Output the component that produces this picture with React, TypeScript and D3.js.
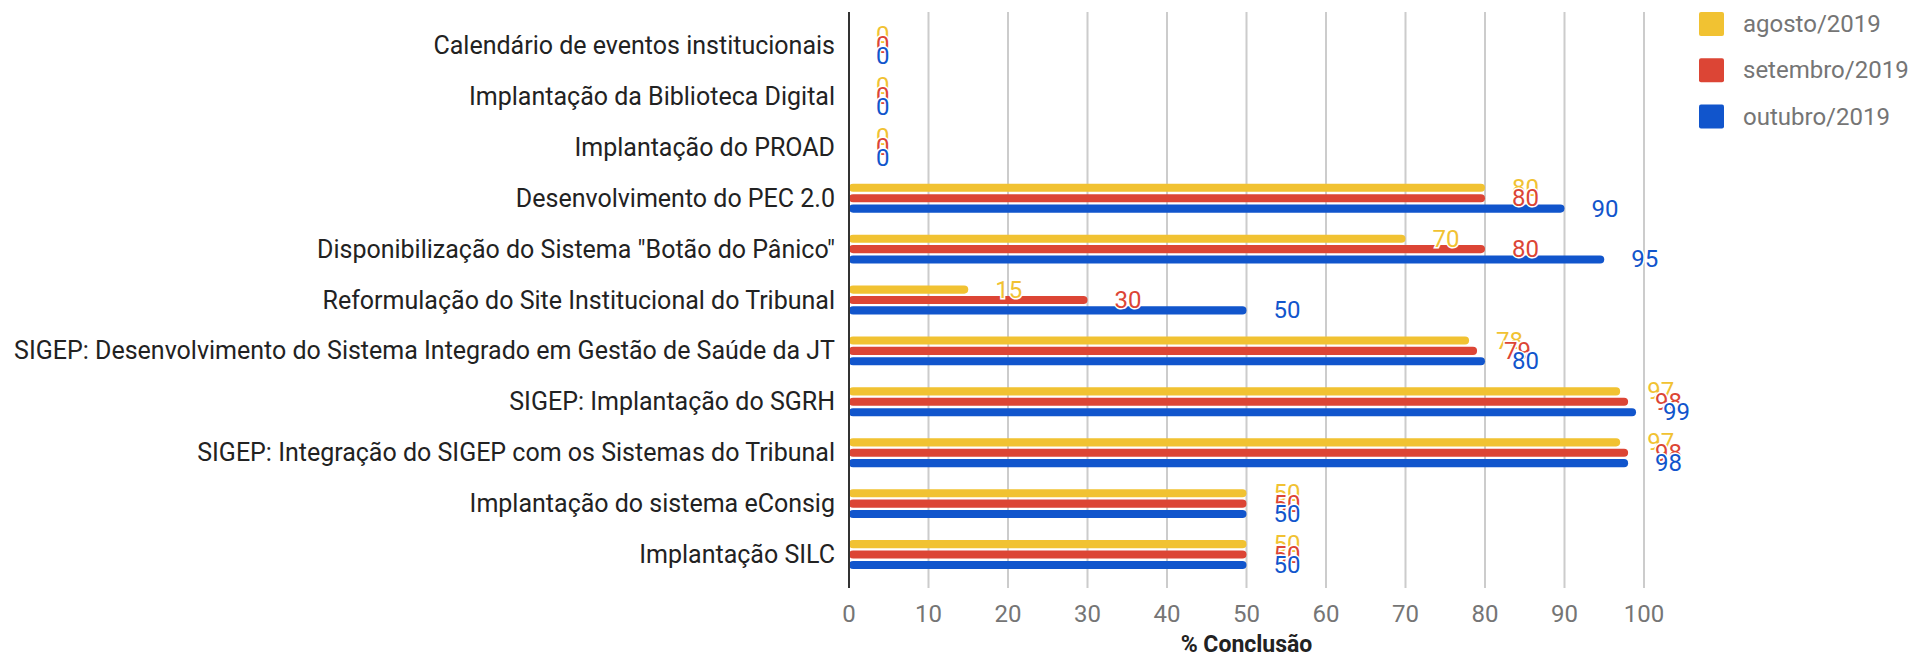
import React, {useRef, useEffect} from 'react';
import * as d3 from 'd3';

// chart data
const projects = [
    'Calendário de eventos institucionais',
    'Implantação da Biblioteca Digital',
    'Implantação do PROAD',
    'Desenvolvimento do PEC 2.0',
    'Disponibilização do Sistema "Botão do Pânico"',
    'Reformulação do Site Institucional do Tribunal',
    'SIGEP: Desenvolvimento do Sistema Integrado em Gestão de Saúde da JT',
    'SIGEP: Implantação do SGRH',
    'SIGEP: Integração do SIGEP com os Sistemas do Tribunal',
    'Implantação do sistema eConsig',
    'Implantação SILC'
];
const series = ['agosto/2019', 'setembro/2019', 'outubro/2019'];
const agosto = [0, 0, 0, 80, 70, 15, 78, 97, 97, 50, 50];
const setembro = [0, 0, 0, 80, 80, 30, 79, 98, 98, 50, 50];
const outubro = [0, 0, 0, 90, 95, 50, 80, 99, 98, 50, 50];
const xTicks = [0, 10, 20, 30, 40, 50, 60, 70, 80, 90, 100];
const xTitle = '% Conclusão';

const config = {
    w: 1916,
    h: 657,
    left: 849,
    right: 1644,
    top: 20,
    bottom: 580,
    font: 'Roboto, "Noto Sans", Arial, sans-serif',
    colors: ['#f1c232', '#dc4535', '#1155cc']
};

const App = () => {
    const svgRef = useRef(null);

    useEffect(() => {
        const svg = d3.select(svgRef.current)
            .attr('width', config.w)
            .attr('height', config.h)
            .style('font-family', config.font);
        svg.selectAll('*').remove();

        const values = [agosto, setembro, outubro];
        const rows = projects.map((p, i) => ({
            name: p,
            vals: series.map((s, j) => ({series: s, idx: j, v: values[j][i]}))
        }));

        const xScale = d3.scaleLinear().domain([0, 100]).range([config.left, config.right]);
        const yScale = d3.scaleBand().domain(projects).range([config.top, config.bottom]);
        const sub = d3.scaleBand().domain(series).range([-15.6, 15.6]);
        const color = d3.scaleOrdinal().domain(series).range(config.colors);
        const barH = sub.bandwidth() * 0.78;

        // gridlines
        svg.append('g')
            .selectAll('line')
            .data(xTicks.filter(t => t > 0))
            .join('line')
            .attr('x1', d => xScale(d)).attr('x2', d => xScale(d))
            .attr('y1', 12).attr('y2', 588)
            .attr('stroke', '#cccccc')
            .attr('stroke-width', 2);

        // tick labels
        svg.append('g')
            .selectAll('text')
            .data(xTicks)
            .join('text')
            .attr('x', d => xScale(d))
            .attr('y', 622)
            .attr('text-anchor', 'middle')
            .attr('font-size', 24)
            .attr('fill', '#757575')
            .text(d => d);

        // axis title
        svg.append('text')
            .attr('x', (config.left + config.right) / 2)
            .attr('y', 652)
            .attr('text-anchor', 'middle')
            .attr('font-size', 23)
            .attr('font-weight', 'bold')
            .attr('fill', '#222')
            .text(xTitle);

        // category labels
        svg.append('g')
            .selectAll('text')
            .data(projects)
            .join('text')
            .attr('x', 835)
            .attr('y', d => yScale(d) + yScale.bandwidth() / 2)
            .attr('text-anchor', 'end')
            .attr('dominant-baseline', 'central')
            .attr('font-size', 25)
            .attr('fill', '#222')
            .text(d => d);

        // bars
        const groups = svg.append('g')
            .selectAll('g')
            .data(rows)
            .join('g')
            .attr('transform', d => `translate(0,${yScale(d.name) + yScale.bandwidth() / 2})`);

        groups.selectAll('rect')
            .data(d => d.vals.filter(v => v.v > 0))
            .join('rect')
            .attr('x', xScale(0))
            .attr('y', d => sub(d.series) + (sub.bandwidth() - barH) / 2)
            .attr('width', d => xScale(d.v) - xScale(0))
            .attr('height', barH)
            .attr('rx', barH / 2)
            .attr('fill', d => color(d.series));

        // value labels, drawn in series order so later ones sit on top
        groups.selectAll('text')
            .data(d => d.vals)
            .join('text')
            .attr('x', d => xScale(d.v) + 27)
            .attr('y', d => sub(d.series) + sub.bandwidth() / 2)
            .attr('dominant-baseline', 'central')
            .attr('font-size', 24)
            .attr('fill', d => color(d.series))
            .attr('stroke', '#fff')
            .attr('stroke-width', 3)
            .attr('paint-order', 'stroke')
            .text(d => d.v);

        // zero axis line
        svg.append('line')
            .attr('x1', xScale(0)).attr('x2', xScale(0))
            .attr('y1', 12).attr('y2', 588)
            .attr('stroke', '#333')
            .attr('stroke-width', 2);

        // legend
        const legend = svg.append('g')
            .selectAll('g')
            .data(series)
            .join('g')
            .attr('transform', (d, i) => `translate(1699,${24 + i * 46.3})`);
        legend.append('rect')
            .attr('x', 0).attr('y', -12)
            .attr('width', 25).attr('height', 24)
            .attr('rx', 2)
            .attr('fill', d => color(d));
        legend.append('text')
            .attr('x', 44).attr('y', 0)
            .attr('dominant-baseline', 'central')
            .attr('font-size', 24)
            .attr('fill', '#757575')
            .text(d => d);
    }, []);

    return (
        <div style={{position: 'absolute', left: 0, top: 0, background: '#fff'}}>
            <svg ref={svgRef}></svg>
        </div>
    );
};

export default App;
